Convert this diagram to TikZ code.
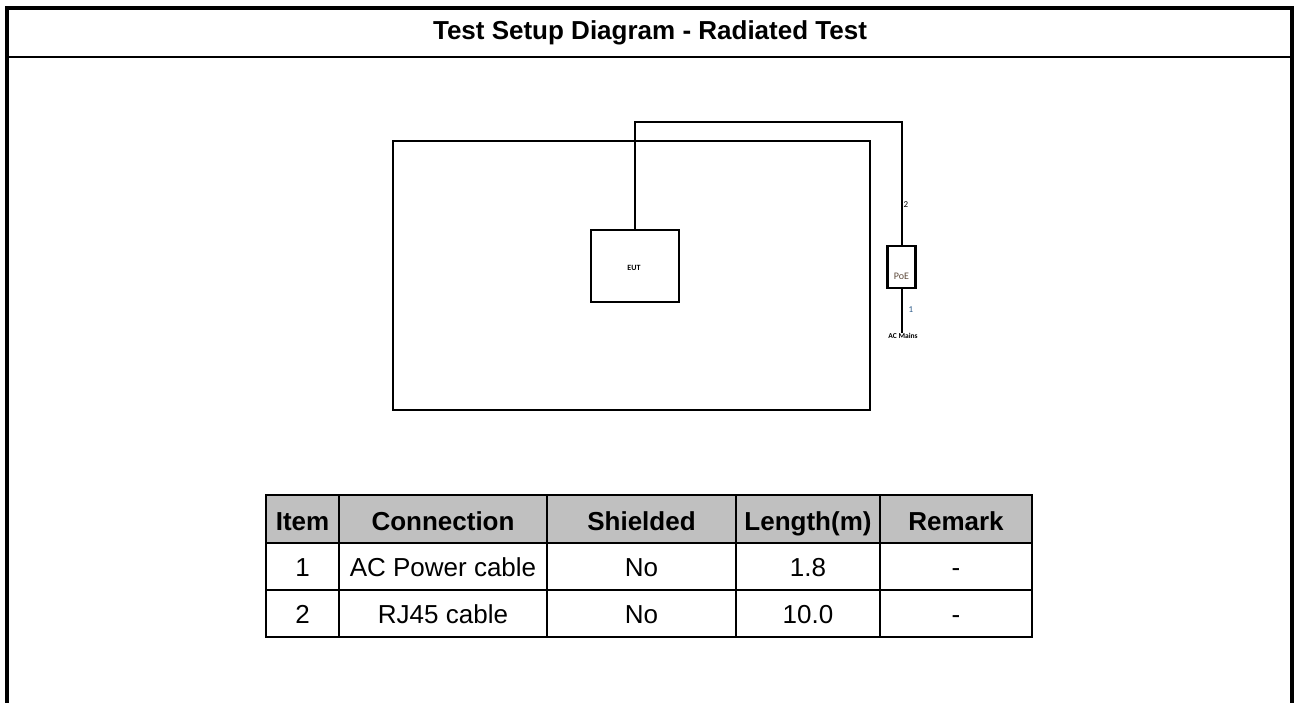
\documentclass[tikz,border=0pt]{standalone}
\usepackage{fontspec}
\setmainfont{Liberation Sans}
\newfontfamily\smallfam{Carlito}
\definecolor{hdrgray}{HTML}{C0C0C0}
\definecolor{poebrown}{HTML}{5E4B3C}
\definecolor{numblue}{HTML}{2E5C8A}
\begin{document}
\begin{tikzpicture}[x=1pt,y=-1pt,
  frameline/.style={line width=4pt},
  cable/.style={line width=2pt},
  boxshape/.style={draw,line width=2.2pt,inner sep=0pt},
  tabline/.style={line width=2.6pt},
  bigtxt/.style={font=\fontsize{26}{30}\selectfont,inner sep=0pt,anchor=base},
  hdrtxt/.style={font=\fontsize{26}{30}\selectfont\bfseries,inner sep=0pt,anchor=base},
  tinytxt/.style={font=\smallfam\fontsize{8}{9}\selectfont,inner sep=0pt}
]
\useasboundingbox (0,0) rectangle (1295,703);
\fill[white] (0,0) rectangle (1295,703);
% outer frame
\draw[frameline] (7,703) -- (7,8) -- (1292,8) -- (1292,703);
\draw[line width=2.5pt] (7,57) -- (1292,57);
\node[hdrtxt] (title) at (650,40) {Test Setup Diagram - Radiated Test};
% setup drawing
\node[draw,line width=2pt,minimum width=477pt,minimum height=269pt,inner sep=0pt] (room) at (631.5,275.5) {};
\node[boxshape,minimum width=88pt,minimum height=72pt] (eut) at (635,266) {};
\node[tinytxt,font=\smallfam\fontsize{8}{9}\selectfont\bfseries] (eutlbl) at (634,268) {EUT};
\node[boxshape,minimum width=28pt,minimum height=42pt] (poe) at (901.5,267) {};
\node[tinytxt,text=poebrown,font=\smallfam\fontsize{10}{11}\selectfont] (poelbl) at (901.5,276) {PoE};
\coordinate (top) at (770,122);
\coordinate (ac) at (901.5,333);
\draw[cable] (eut.north) |- (top) -| (poe.north);
\draw[cable] (poe.south) -- (ac);
\node[tinytxt,font=\smallfam\fontsize{7.5}{9}\selectfont\bfseries,anchor=north] (aclbl) at (903,333) {AC Mains};
\node[tinytxt,font=\smallfam\fontsize{9}{10}\selectfont] (lbl2) at (906,205) {2};
\node[tinytxt,text=numblue,font=\smallfam\fontsize{9}{10}\selectfont] (lbl1) at (911,310) {1};
% table
\fill[hdrgray] (266,495) rectangle (1032,543);
\draw[tabline] (266,495) rectangle (1032,637);
\draw[tabline] (266,543) -- (1032,543);
\draw[tabline] (266,590) -- (1032,590);
\foreach \cx in {339,547,736,880} \draw[tabline] (\cx,495) -- (\cx,637);
\node[hdrtxt] (h1) at (302.5,530) {Item};
\node[hdrtxt] (h2) at (443,530) {Connection};
\node[hdrtxt] (h3) at (641.5,530) {Shielded};
\node[hdrtxt] (h4) at (808,530) {Length(m)};
\node[hdrtxt] (h5) at (956,530) {Remark};
\node[bigtxt] (a1) at (302.5,576) {1};
\node[bigtxt] (a2) at (443,576) {AC Power cable};
\node[bigtxt] (a3) at (641.5,576) {No};
\node[bigtxt] (a4) at (808,576) {1.8};
\node[bigtxt] (a5) at (956,576) {-};
\node[bigtxt] (b1) at (302.5,623) {2};
\node[bigtxt] (b2) at (443,623) {RJ45 cable};
\node[bigtxt] (b3) at (641.5,623) {No};
\node[bigtxt] (b4) at (808,623) {10.0};
\node[bigtxt] (b5) at (956,623) {-};
\end{tikzpicture}
\end{document}
